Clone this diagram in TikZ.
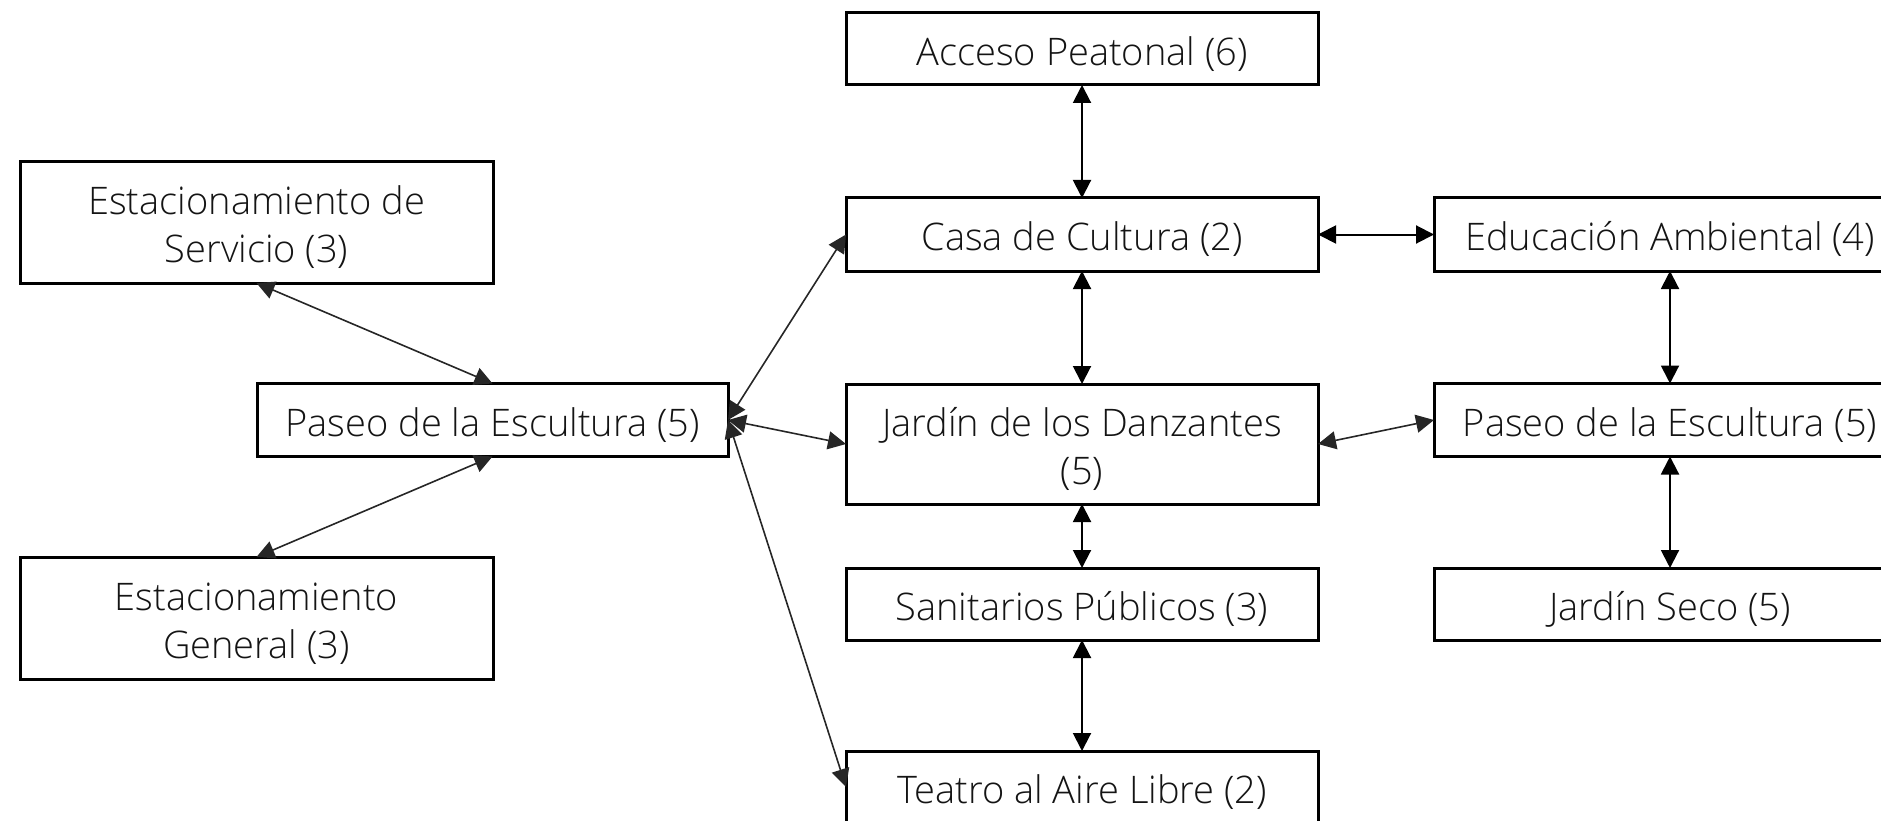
\documentclass[tikz,border=0pt]{standalone}
\usepackage{fontspec}
\IfFontExistsTF{Open Sans Light}{\setmainfont{Open Sans Light}}{\setmainfont{Open Sans}}
\usetikzlibrary{arrows.meta}
\definecolor{txt}{gray}{0.08}
\newcommand\bt[1]{\raisebox{-6.5pt}[\height][\depth]{\begin{tabular}{@{}c@{}}#1\end{tabular}}}
\begin{document}
\begin{tikzpicture}[x=1pt,y=-1pt,
  box/.style={draw=black,line width=3pt,inner sep=0pt,outer sep=0pt,
    text=txt,font=\fontsize{38}{48}\selectfont},
  bw/.style={minimum width=472pt},
  vlink/.style={line width=2pt,{Triangle[length=18pt,width=18pt]}-{Triangle[length=18pt,width=18pt]}},
  dlink/.style={line width=1.6pt,draw=black!85,{Triangle[length=18pt,width=18pt]}-{Triangle[length=18pt,width=18pt]}}]
\useasboundingbox (0,0) rectangle (1881,821);
\clip (0,0) rectangle (1881,821);
% middle column
\node[box,bw,minimum height=72pt] (acc) at (1082,49) {\bt{Acceso Peatonal (6)}};
\node[box,bw,minimum height=73pt] (casa) at (1082,234.5) {\bt{Casa de Cultura (2)}};
\node[box,bw,minimum height=120pt] (jard) at (1082,444) {\bt{Jardín de los Danzantes\\(5)}};
\node[box,bw,minimum height=72pt] (sani) at (1082,604) {\bt{Sanitarios Públicos (3)}};
\node[box,bw,minimum height=72pt] (teat) at (1082,787) {\bt{Teatro al Aire Libre (2)}};
% right column
\node[box,bw,minimum height=73pt] (edu) at (1670,234.5) {\bt{Educación Ambiental (4)}};
\node[box,bw,minimum height=73pt] (pasR) at (1670,420) {\bt{Paseo de la Escultura (5)}};
\node[box,bw,minimum height=72pt] (seco) at (1670,604) {\bt{Jardín Seco (5)}};
% left column
\node[box,minimum width=473pt,minimum height=121pt] (estS) at (256.5,222.5) {\bt{Estacionamiento de\\Servicio (3)}};
\node[box,minimum width=471pt,minimum height=73pt] (pasL) at (492.5,420) {\bt{Paseo de la Escultura (5)}};
\node[box,minimum width=473pt,minimum height=122pt] (estG) at (256.5,618) {\bt{Estacionamiento\\General (3)}};
% vertical links
\draw[vlink] (acc.south) -- (casa.north);
\draw[vlink] (casa.south) -- (jard.north);
\draw[vlink] (jard.south) -- (sani.north);
\draw[vlink] (sani.south) -- (teat.north);
\draw[vlink] (edu.south) -- (pasR.north);
\draw[vlink] (pasR.south) -- (seco.north);
\draw[vlink] (casa.east) -- (edu.west);
% diagonal links
\draw[dlink] (jard.east) -- (pasR.west);
\draw[dlink] (estS.south) -- (pasL.north);
\draw[dlink] (pasL.south) -- (estG.north);
\draw[dlink] (pasL.east) -- (casa.west);
\draw[dlink] (pasL.east) -- (jard.west);
\draw[dlink] (pasL.east) -- (teat.west);
\end{tikzpicture}
\end{document}
